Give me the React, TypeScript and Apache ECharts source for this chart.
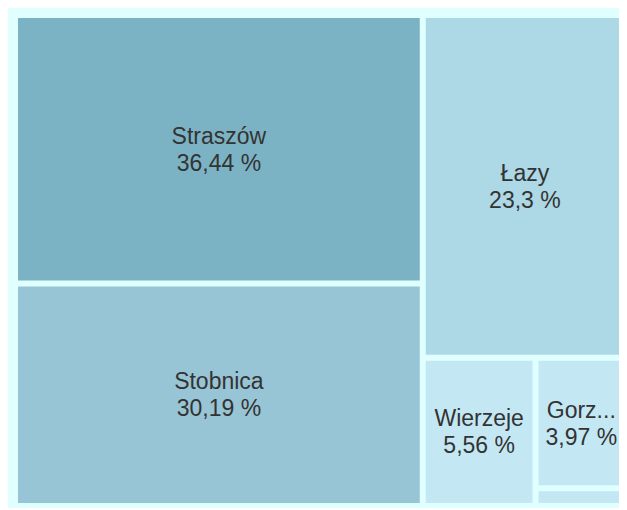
import React, { useEffect, useRef } from "react";
import * as echarts from "echarts";

const names = ["Straszów", "Stobnica", "Łazy", "Wierzeje", "Gorzyce", "Pozostałe"];
const values = [36.44, 30.19, 23.3, 5.56, 3.97, 0.54];
const colors = ["#7BB3C5", "#98C5D5", "#ADD8E6", "#C3E8F4", "#C3E8F4", "#C3E8F4"];
const showLabel = [true, true, true, true, true, false];

export default function App() {
  const ref = useRef<HTMLDivElement>(null);
  useEffect(() => {
    if (!ref.current) return;
    const chart = echarts.init(ref.current, undefined, { renderer: "svg" });
    const data = names.map((n, i) => ({
      name: n,
      value: values[i],
      itemStyle: { color: colors[i] },
      label: { show: showLabel[i] },
    }));
    chart.setOption({
      animation: false,
      backgroundColor: "#E0FFFF",
      series: [
        {
          type: "treemap",
          left: 10,
          top: 10,
          width: 606,
          height: 485,
          roam: false,
          nodeClick: false,
          breadcrumb: { show: false },
          squareRatio: 1,
          itemStyle: { gapWidth: 6, borderWidth: 0, borderColor: "#E0FFFF" },
          levels: [
            { itemStyle: { gapWidth: 6, borderWidth: 0, borderColor: "#E0FFFF" } },
          ],
          label: {
            show: true,
            position: "inside",
            align: "center",
            verticalAlign: "middle",
            overflow: "truncate",
            fontFamily: "Liberation Sans, Arial, sans-serif",
            fontSize: 23,
            lineHeight: 27,
            color: "#333333",
            formatter: (p: any) =>
              p.name + "\n" + String(p.value).replace(".", ",") + " %",
          },
          data,
        },
      ],
    });
    return () => chart.dispose();
  }, []);
  return <div ref={ref} style={{ width: 619, height: 500 }} />;
}
